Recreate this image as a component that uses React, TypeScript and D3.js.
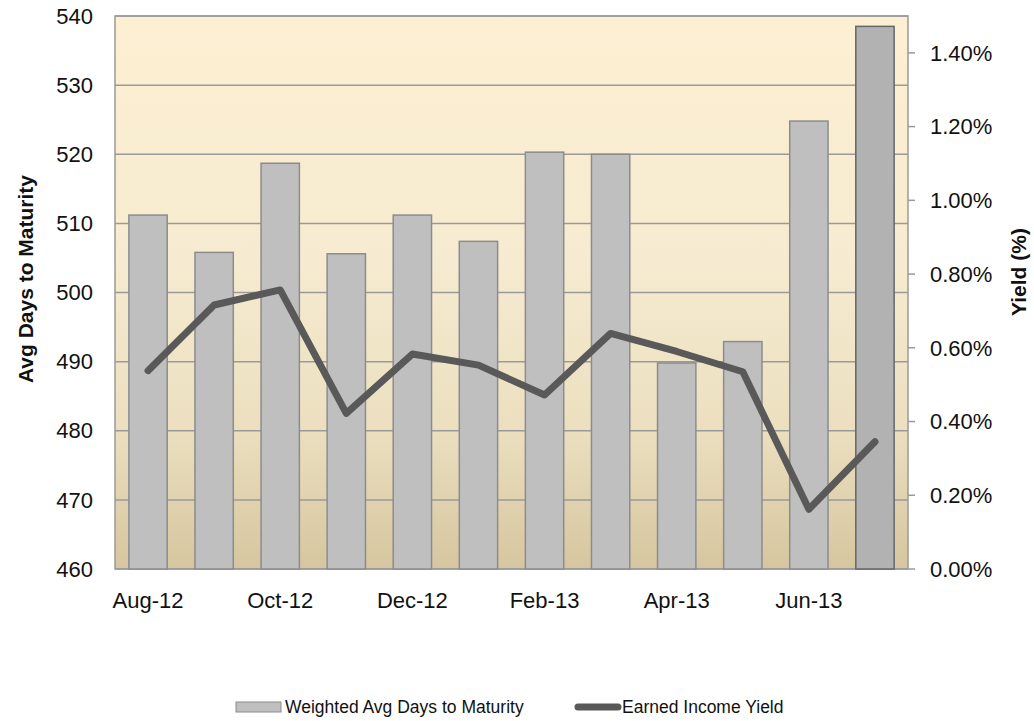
import React from 'react';
import * as d3 from 'd3';

const months = ['Aug-12', 'Sep-12', 'Oct-12', 'Nov-12', 'Dec-12', 'Jan-13', 'Feb-13', 'Mar-13', 'Apr-13', 'May-13', 'Jun-13', 'Jul-13'];
const avgDays = [511.2, 505.8, 518.7, 505.6, 511.2, 507.4, 520.3, 520.0, 489.8, 492.9, 524.8, 538.5];
const yieldPct = [0.538, 0.716, 0.757, 0.422, 0.583, 0.553, 0.472, 0.639, 0.59, 0.535, 0.162, 0.345];
const leftTicks = [460, 470, 480, 490, 500, 510, 520, 530, 540];
const rightTicks = [0, 0.2, 0.4, 0.6, 0.8, 1.0, 1.2, 1.4];
const shownLabels = ['Aug-12', 'Oct-12', 'Dec-12', 'Feb-13', 'Apr-13', 'Jun-13'];

const W = 1034;
const H = 721;
const plot = { left: 115, right: 908, top: 16, bottom: 569 };
const font = '"Liberation Sans", Arial, sans-serif';

export default function App() {
  const x = d3.scaleBand<string>()
    .domain(months)
    .range([plot.left, plot.right])
    .paddingInner(0.42)
    .paddingOuter(0.21);
  const step = (plot.right - plot.left) / months.length;
  const cx = (m: string) => plot.left + months.indexOf(m) * step + step / 2;

  const yL = d3.scaleLinear().domain([460, 540]).range([plot.bottom, plot.top]);
  const yR = d3.scaleLinear().domain([0, 1.5]).range([plot.bottom, plot.top]);

  const line = d3.line<number>()
    .x((_, i) => cx(months[i]))
    .y(d => yR(d));

  const bw = x.bandwidth();

  return (
    <svg width={W} height={H} style={{ position: 'absolute', left: 0, top: 0, background: '#fff' }}>
      <defs>
        <linearGradient id="bg" x1="0" y1="0" x2="0" y2="1">
          <stop offset="0" stopColor="#fdefd2" />
          <stop offset="0.45" stopColor="#f6ebd0" />
          <stop offset="0.75" stopColor="#ebdfbf" />
          <stop offset="1" stopColor="#d6c69f" />
        </linearGradient>
      </defs>

      <rect x={plot.left} y={plot.top} width={plot.right - plot.left} height={plot.bottom - plot.top} fill="url(#bg)" />

      {leftTicks.map(t => (
        <line key={t} x1={plot.left} x2={plot.right} y1={yL(t)} y2={yL(t)} stroke="#9a9a9a" strokeWidth={1.5} />
      ))}

      <rect x={plot.left} y={plot.top} width={plot.right - plot.left} height={plot.bottom - plot.top}
        fill="none" stroke="#9a9a9a" strokeWidth={1.5} />

      {months.map((m, i) => {
        const last = i === months.length - 1;
        return (
          <rect key={m} x={x(m)} y={yL(avgDays[i])} width={bw} height={plot.bottom - yL(avgDays[i])}
            fill={last ? '#b2b2b2' : '#bfbfbf'} stroke={last ? '#666' : '#8c8c8c'} strokeWidth={1.5} />
        );
      })}

      <path d={line(yieldPct) || ''} fill="none" stroke="#595959" strokeWidth={7}
        strokeLinecap="round" strokeLinejoin="round" />

      {leftTicks.map(t => (
        <text key={t} x={93} y={yL(t)} dy="0.35em" textAnchor="end" fontFamily={font} fontSize={22} fill="#111">{t}</text>
      ))}

      {rightTicks.map(t => (
        <g key={t}>
          <line x1={plot.right} x2={plot.right + 7} y1={yR(t)} y2={yR(t)} stroke="#9a9a9a" strokeWidth={1.5} />
          <text x={930} y={yR(t)} dy="0.35em" fontFamily={font} fontSize={22} fill="#111">{t.toFixed(2) + '%'}</text>
        </g>
      ))}

      {shownLabels.map(m => (
        <text key={m} x={cx(m)} y={608} textAnchor="middle" fontFamily={font} fontSize={22} fill="#111">{m}</text>
      ))}

      <text transform={`translate(33,279) rotate(-90)`} textAnchor="middle" fontFamily={font} fontSize={21}
        fontWeight="bold" fill="#111">Avg Days to Maturity</text>
      <text transform={`translate(1026,272) rotate(-90)`} textAnchor="middle" fontFamily={font} fontSize={21}
        fontWeight="bold" fill="#111">Yield (%)</text>

      <rect x={236} y={702} width={45} height={10} fill="#bfbfbf" stroke="#8c8c8c" strokeWidth={1} />
      <text x={285} y={707} dy="0.35em" fontFamily={font} fontSize={17.5} fill="#111">Weighted Avg Days to Maturity</text>
      <line x1={578} x2={618} y1={707} y2={707} stroke="#595959" strokeWidth={7} strokeLinecap="round" />
      <text x={622} y={707} dy="0.35em" fontFamily={font} fontSize={17.5} fill="#111">Earned Income Yield</text>
    </svg>
  );
}
